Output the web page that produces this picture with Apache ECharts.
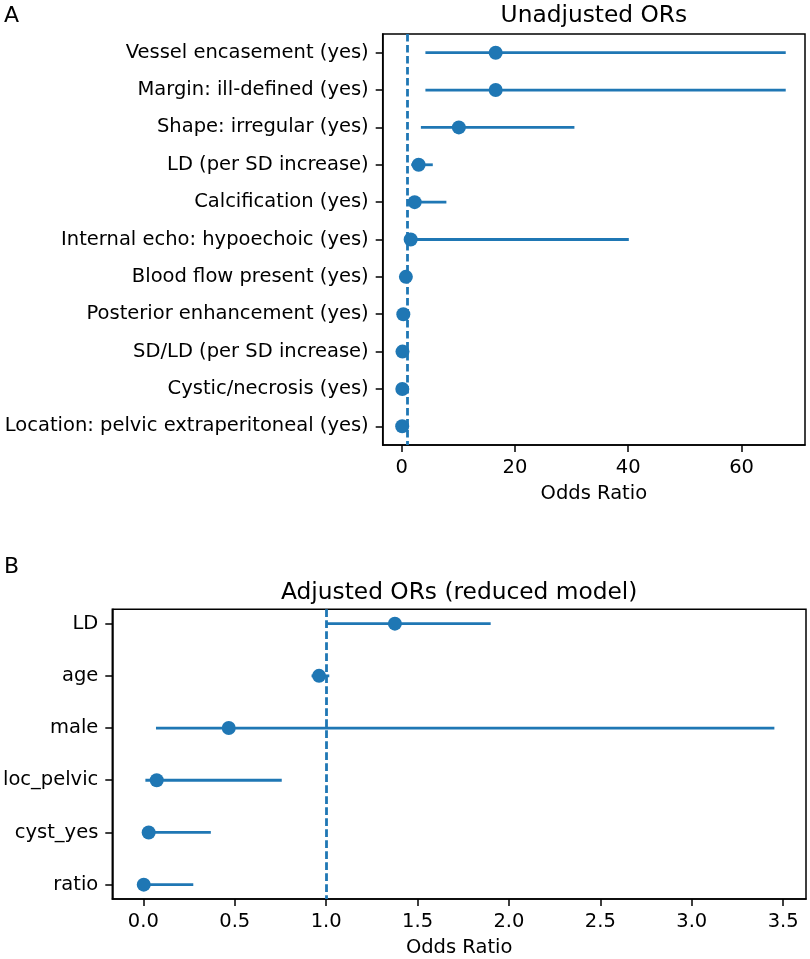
<!DOCTYPE html>
<html>
<head>
<meta charset="utf-8">
<script src="https://cdn.jsdelivr.net/npm/echarts@6/dist/echarts.min.js"></script>
<style>html,body{margin:0;padding:0;background:#fff}#c{width:810px;height:959px}</style>
</head>
<body>
<div id="c"></div>
<script>
// ---- Panel A: unadjusted ORs ----
const topLabels = ['Vessel encasement (yes)', 'Margin: ill-defined (yes)', 'Shape: irregular (yes)', 'LD (per SD increase)', 'Calcification (yes)', 'Internal echo: hypoechoic (yes)', 'Blood flow present (yes)', 'Posterior enhancement (yes)', 'SD/LD (per SD increase)', 'Cystic/necrosis (yes)', 'Location: pelvic extraperitoneal (yes)'];
const topOR = [16.6, 16.6, 10.1, 3.0, 2.3, 1.6, 0.75, 0.3, 0.15, 0.12, 0.1];
const topLo = [4.2, 4.2, 3.4, 1.7, 1.05, 0.45, 0.35, 0.1, 0.05, 0.04, 0.03];
const topHi = [67.8, 67.8, 30.5, 5.5, 7.9, 40.1, 1.5, 0.8, 0.45, 0.4, 0.35];
const topTicks = [0, 20, 40, 60];

// ---- Panel B: adjusted ORs (reduced model) ----
const botLabels = ['LD', 'age', 'male', 'loc_pelvic', 'cyst_yes', 'ratio'];
const botOR = [1.376, 0.961, 0.467, 0.073, 0.029, 0.002];
const botLo = [1.003, 0.92, 0.069, 0.011, 0.003, 0.0002];
const botHi = [1.90, 1.017, 3.452, 0.757, 0.369, 0.273];
const botTicks = [0, 0.5, 1.0, 1.5, 2.0, 2.5, 3.0, 3.5];

const C = '#1f77b4';
const FONT = 'DejaVu Sans';
const FS = 19.5;
const chart = echarts.init(document.getElementById('c'), null, {renderer: 'canvas'});

function idx(n) { return Array.from({length: n}, (_, i) => i); }

function xAxisCfg(gi, min, max, ticks, fmt, nameGap) {
  return {
    gridIndex: gi, type: 'value', min: min, max: max,
    name: 'Odds Ratio', nameLocation: 'middle', nameGap: nameGap,
    nameTextStyle: {color: '#000', fontSize: FS, fontFamily: FONT},
    axisLine: {show: true, onZero: false, lineStyle: {color: '#000', width: 1.5}},
    axisTick: {show: true, length: 7, lineStyle: {color: '#000', width: 1.5}, customValues: ticks},
    axisLabel: {color: '#000', fontSize: FS, fontFamily: FONT, margin: 13, customValues: ticks, formatter: fmt},
    splitLine: {show: false}
  };
}
function yAxisCfg(gi, n, labels, pad) {
  return {
    gridIndex: gi, type: 'value', inverse: true, min: -pad, max: n - 1 + pad,
    axisLine: {show: true, onZero: false, lineStyle: {color: '#000', width: 1.5}},
    axisTick: {show: true, length: 7, lineStyle: {color: '#000', width: 1.5}, customValues: idx(n)},
    axisLabel: {color: '#000', fontSize: FS, fontFamily: FONT, margin: 14, customValues: idx(n), formatter: v => labels[Math.round(v)]},
    splitLine: {show: false}
  };
}
function errSeries(gi, lo, hi) {
  return {
    type: 'custom', xAxisIndex: gi, yAxisIndex: gi, silent: true, z: 2,
    data: lo.map((l, i) => [i, l, hi[i]]),
    encode: {x: [1, 2], y: 0},
    renderItem: function (params, api) {
      const y = api.value(0);
      const p1 = api.coord([api.value(1), y]);
      const p2 = api.coord([api.value(2), y]);
      return {type: 'line', shape: {x1: p1[0], y1: p1[1], x2: p2[0], y2: p2[1]}, style: {stroke: C, lineWidth: 2.8}};
    }
  };
}
function ptSeries(gi, or) {
  return {
    type: 'scatter', xAxisIndex: gi, yAxisIndex: gi, z: 3, silent: true,
    symbol: 'circle', symbolSize: 14, itemStyle: {color: C, opacity: 1},
    data: or.map((v, i) => [v, i]),
    markLine: {
      silent: true, symbol: 'none', animation: false,
      label: {show: false},
      lineStyle: {color: C, width: 2.8, type: [7.6, 3.4]},
      data: [{xAxis: 1}]
    }
  };
}

const topFmt = v => String(v);
const botFmt = v => v.toFixed(1);

chart.setOption({
  animation: false,
  backgroundColor: '#fff',
  grid: [
    {left: 382.7, top: 34, width: 422.3, height: 411, show: true, borderColor: '#000', borderWidth: 1.5, containLabel: false},
    {left: 112.3, top: 609.3, width: 693.7, height: 291.4, show: true, borderColor: '#000', borderWidth: 1.5, containLabel: false}
  ],
  xAxis: [
    xAxisCfg(0, -3.34, 71.2, topTicks, topFmt, 39),
    xAxisCfg(1, -0.17, 3.625, botTicks, botFmt, 39)
  ],
  yAxis: [
    yAxisCfg(0, topLabels.length, topLabels, 0.5),
    yAxisCfg(1, botLabels.length, botLabels, 0.275)
  ],
  series: [
    errSeries(0, topLo, topHi), ptSeries(0, topOR),
    errSeries(1, botLo, botHi), ptSeries(1, botOR)
  ],
  graphic: [
    {type: 'text', x: 4, y: 16, style: {text: 'A', fontSize: 22, fontFamily: FONT, fill: '#000', textVerticalAlign: 'middle'}},
    {type: 'text', x: 4, y: 567, style: {text: 'B', fontSize: 22, fontFamily: FONT, fill: '#000', textVerticalAlign: 'middle'}},
    {type: 'text', x: 593.9, y: 16, style: {text: 'Unadjusted ORs', fontSize: 23.3, fontFamily: FONT, fill: '#000', textAlign: 'center', textVerticalAlign: 'middle'}},
    {type: 'text', x: 459.2, y: 592.5, style: {text: 'Adjusted ORs (reduced model)', fontSize: 23.3, fontFamily: FONT, fill: '#000', textAlign: 'center', textVerticalAlign: 'middle'}}
  ]
});
</script>
</body>
</html>
